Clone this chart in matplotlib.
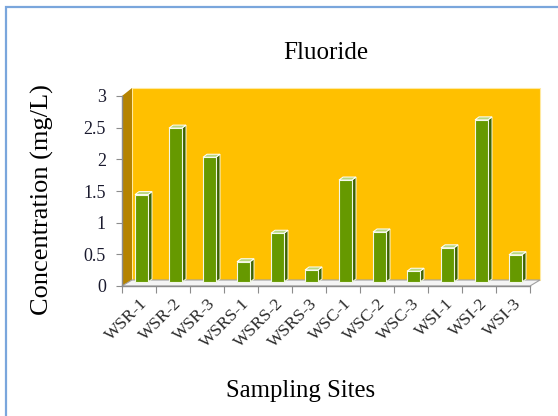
import numpy as np
import matplotlib.pyplot as plt
from matplotlib.patches import Polygon, Rectangle

# Fluoride concentration per sampling site (mg/L)
sites = ["WSR-1", "WSR-2", "WSR-3", "WSRS-1", "WSRS-2", "WSRS-3",
         "WSC-1", "WSC-2", "WSC-3", "WSI-1", "WSI-2", "WSI-3"]
fluoride = [1.38, 2.43, 1.97, 0.32, 0.77, 0.19, 1.61, 0.79, 0.17, 0.54, 2.56, 0.43]
y_ticks = [0, 0.5, 1, 1.5, 2, 2.5, 3]

plt.rcParams['font.family'] = ['Liberation Serif', 'DejaVu Serif']

W, H = 558, 416
fig = plt.figure(figsize=(W / 100, H / 100), dpi=100)
fig.patch.set_facecolor('white')

# outer chart border (light blue), right/bottom run off the image
fig.patches.append(Rectangle((6 / W, -0.2), 1.2, 1 - 7 / H + 0.2,
                             transform=fig.transFigure, fill=False,
                             edgecolor='#7aa6dc', lw=1.6))

ax = fig.add_axes([122 / W, 1 - 286 / H, 408 / W, 190 / H])
ax.set_xlim(-0.5, len(sites) - 0.5)
ax.set_ylim(0, 3)
ax.set_facecolor('none')
for s in ['top', 'right']:
    ax.spines[s].set_visible(False)
for s in ['left', 'bottom']:
    ax.spines[s].set_color('#8c8c8c')
    ax.spines[s].set_linewidth(1.0)

# pixel -> data unit helpers
ux = (len(sites)) / 408
uy = 3 / 190
wall_dx, wall_dy = 10 * ux, 6 * uy

x_lo, x_hi = -0.5, len(sites) - 0.5
# back wall
ax.add_patch(Polygon([(x_lo + wall_dx, wall_dy), (x_hi + wall_dx, wall_dy),
                      (x_hi + wall_dx, 3 + 8 * uy), (x_lo + wall_dx, 3 + 8 * uy)],
                     closed=True, facecolor='#ffc000', edgecolor='#ffe9a0',
                     lw=0.8, clip_on=False, zorder=0))
# left side wall
ax.add_patch(Polygon([(x_lo, 0), (x_lo + wall_dx, wall_dy),
                      (x_lo + wall_dx, 3 + 8 * uy), (x_lo, 3)],
                     closed=True, facecolor='#b58300', edgecolor='none',
                     clip_on=False, zorder=0.5))
# floor
ax.add_patch(Polygon([(x_lo, 0), (x_hi, 0), (x_hi + wall_dx, wall_dy),
                      (x_lo + wall_dx, wall_dy)],
                     closed=True, facecolor='#f4f4f4', edgecolor='#a0a0a0',
                     lw=0.8, clip_on=False, zorder=0.6))

# 3D-looking columns
x = np.arange(len(sites))
bw = 13 * ux
off = 2.5 * ux
b0 = 4 * uy
dx, dy = 4 * ux, 3 * uy
xs = x + off
ax.bar(xs, fluoride, width=bw, bottom=b0, color='#669900',
       edgecolor='#f2f7e6', linewidth=0.8, zorder=3)
for xc, v in zip(xs, fluoride):
    xl, xr, top = xc - bw / 2, xc + bw / 2, b0 + v
    ax.add_patch(Polygon([(xr, b0), (xr + dx, b0 + dy), (xr + dx, top + dy), (xr, top)],
                         closed=True, facecolor='#3f6300', edgecolor='#f2f7e6',
                         lw=0.7, zorder=2.5))
    ax.add_patch(Polygon([(xl, top), (xr, top), (xr + dx, top + dy), (xl + dx, top + dy)],
                         closed=True, facecolor='#b9d77f', edgecolor='white',
                         lw=0.7, zorder=3.5))

ax.set_yticks(y_ticks)
ax.set_yticklabels([f"{t:g}" for t in y_ticks], fontsize=13, color='#1a1a2e')
ax.set_xticks(np.arange(len(sites) + 1) - 0.5)
ax.set_xticklabels([])
ax.set_xticks(x, minor=True)
ax.set_xticklabels(sites, minor=True, rotation=45, ha='right',
                   rotation_mode='anchor', fontsize=12.5, color='#2a2a2a')
ax.tick_params(axis='x', which='major', length=5, color='#8c8c8c', direction='out')
ax.tick_params(axis='x', which='minor', length=0, pad=7)
ax.tick_params(axis='y', length=4.5, color='#8c8c8c', pad=7)

fig.text(326 / W, 1 - 53 / H, "Fluoride", ha='center', va='center', fontsize=18)
fig.text(42 / W, 1 - 200 / H, "Concentration (mg/L)", ha='center', va='center',
         rotation=90, fontsize=19)
fig.text(301 / W, 1 - 391 / H, "Sampling Sites", ha='center', va='center', fontsize=17.8)

fig.savefig("out.png", dpi=100)
